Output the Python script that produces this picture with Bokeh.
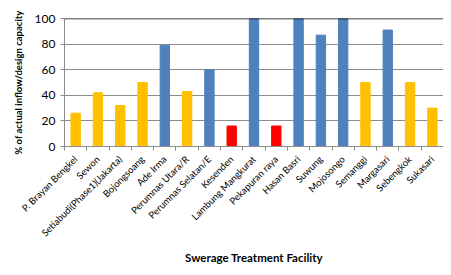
import math
from bokeh.plotting import figure
from bokeh.models import ColumnDataSource, FixedTicker, Span, Range1d
from bokeh.embed import file_html
from bokeh.resources import INLINE

facilities = ["P. Brayan Bengkel", "Sewon", "Setiabudi(Phase1)(Jakarta)", "Bojongsoang",
              "Ade Irma", "Perumnas Utara/R", "Perumnas Selatan/E", "Kesenden",
              "Lambung Mangkurat", "Pekapuran raya", "Hasan Basri", "Suwung",
              "Mojosongo", "Semanggi", "Margasari", "Sebengkok", "Sukasari"]
ratios = [26, 42, 32, 50, 79, 43, 60, 16, 100, 16, 100, 87, 100, 50, 91, 50, 30]
bar_colors = ["#FFC000", "#FFC000", "#FFC000", "#FFC000", "#4F81BD", "#FFC000", "#4F81BD",
              "#FF0000", "#4F81BD", "#FF0000", "#4F81BD", "#4F81BD", "#4F81BD", "#FFC000",
              "#4F81BD", "#FFC000", "#FFC000"]
y_ticks = [0, 20, 40, 60, 80, 100]

n = len(facilities)
centers = [i + 0.5 for i in range(n)]
source = ColumnDataSource(dict(x=centers, top=ratios, color=bar_colors))

FONT = "Lato"

p = figure(width=443, height=267, output_backend="svg", toolbar_location=None,
           x_range=Range1d(0, n), y_range=Range1d(0, 100),
           min_border_left=64, min_border_right=0, min_border_top=18, min_border_bottom=10)

p.vbar(x="x", top="top", width=0.42, color="color", source=source)

p.outline_line_color = None
p.xgrid.grid_line_color = None
p.ygrid.grid_line_color = "#8C8C8C"
p.ygrid.grid_line_width = 1
p.add_layout(Span(location=y_ticks[-1], dimension="width", line_color="black", line_width=1.3))

p.yaxis.ticker = FixedTicker(ticks=y_ticks)
p.yaxis.axis_line_color = "#8C8C8C"
p.yaxis.major_tick_line_color = "#8C8C8C"
p.yaxis.major_tick_out = 4
p.yaxis.major_tick_in = 0
p.yaxis.minor_tick_line_color = None
p.yaxis.major_label_text_font = FONT
p.yaxis.major_label_text_font_size = "12px"
p.yaxis.major_label_text_color = "black"
p.yaxis.axis_label = "% of actual inflow/design capacity"
p.yaxis.axis_label_text_font = FONT
p.yaxis.axis_label_text_font_size = "9.5px"
p.yaxis.axis_label_text_font_style = "bold"
p.yaxis.axis_label_text_color = "black"
p.yaxis.axis_label_standoff = 8

p.xaxis.ticker = FixedTicker(ticks=centers, minor_ticks=list(range(n + 1)))
p.xaxis.major_label_overrides = {c: f for c, f in zip(centers, facilities)}
p.xaxis.major_tick_out = 0
p.xaxis.major_tick_in = 0
p.xaxis.minor_tick_out = 4
p.xaxis.minor_tick_in = 0
p.xaxis.minor_tick_line_color = "#8C8C8C"
p.xaxis.axis_line_color = "#8C8C8C"
p.xaxis.major_label_orientation = math.pi / 4
p.xaxis.major_label_text_font = FONT
p.xaxis.major_label_text_font_size = "9.5px"
p.xaxis.major_label_text_color = "black"
p.xaxis.major_label_standoff = 7
p.xaxis.axis_label = "Swerage Treatment Facility"
p.xaxis.axis_label_text_font = FONT
p.xaxis.axis_label_text_font_size = "11.5px"
p.xaxis.axis_label_text_font_style = "bold"
p.xaxis.axis_label_text_color = "black"
p.xaxis.axis_label_standoff = 6

open("out.html", "w").write(file_html(p, INLINE))
